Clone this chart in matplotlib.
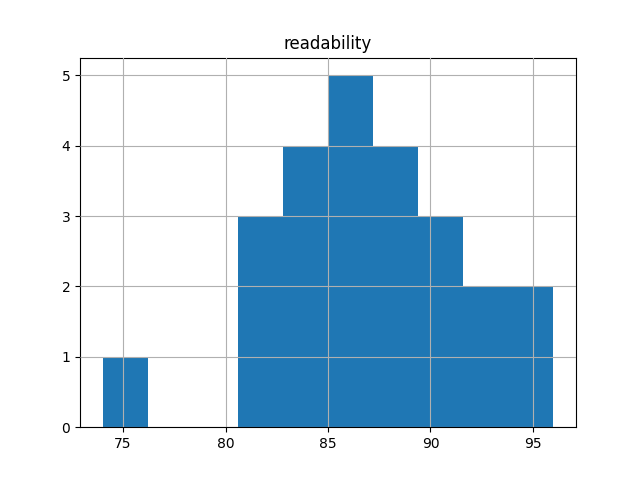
import matplotlib
matplotlib.use("Agg")
import matplotlib.pyplot as plt
import numpy as np

title = "readability"
data_min = 74.0
data_max = 96.0
n_bins = 10
counts = [1, 0, 0, 3, 4, 5, 4, 3, 2, 2]

edges = np.linspace(data_min, data_max, n_bins + 1)
centers = (edges[:-1] + edges[1:]) / 2

fig, ax = plt.subplots(figsize=(6.4, 4.8), dpi=100)
ax.hist(centers, bins=edges, weights=counts, color="#1f77b4")
ax.grid(True)
ax.set_axisbelow(False)
ax.set_title(title)
fig.savefig("out.png")
